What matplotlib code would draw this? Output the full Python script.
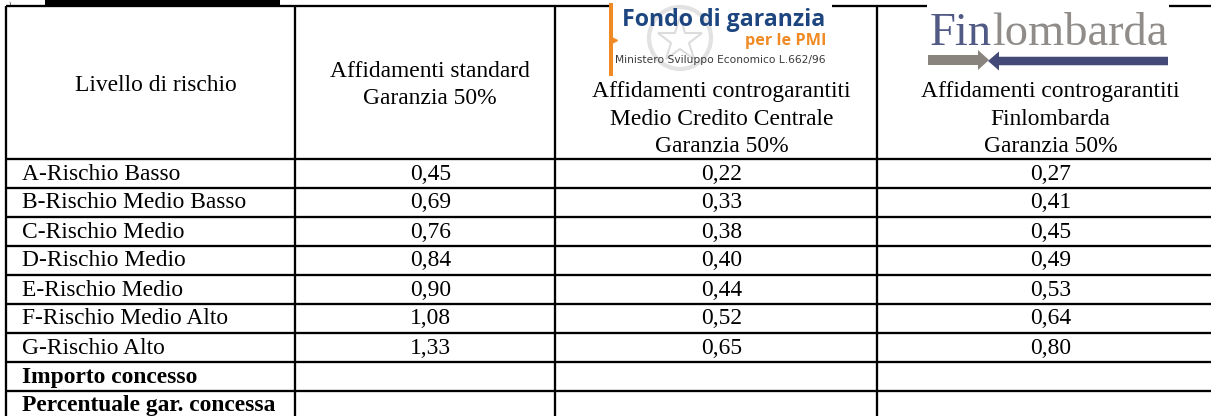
import matplotlib
matplotlib.use("Agg")
import matplotlib.pyplot as plt
from matplotlib.patches import Rectangle, Circle, FancyArrow

# ---------------- data ----------------
risk_levels = ["A-Rischio Basso", "B-Rischio Medio Basso", "C-Rischio Medio",
               "D-Rischio Medio", "E-Rischio Medio", "F-Rischio Medio Alto",
               "G-Rischio Alto"]
standard = [0.45, 0.69, 0.76, 0.84, 0.90, 1.08, 1.33]
mcc = [0.22, 0.33, 0.38, 0.40, 0.44, 0.52, 0.65]
finlombarda = [0.27, 0.41, 0.45, 0.49, 0.53, 0.64, 0.80]
summary_rows = ["Importo concesso", "Percentuale gar. concessa"]

header_col1 = ["Livello di rischio"]
header_col2 = ["Affidamenti standard", "Garanzia 50%"]
header_col3 = ["Affidamenti controgarantiti", "Medio Credito Centrale", "Garanzia 50%"]
header_col4 = ["Affidamenti controgarantiti", "Finlombarda", "Garanzia 50%"]

# ---------------- layout ----------------
W, H = 1211, 416
col_edges = [6, 294.5, 555, 877, 1213]
table_top = 6
header_bottom = 159
row_h = 29
n_rows = len(risk_levels) + len(summary_rows)
line_px = 2.3
lw = line_px * 72 / 100
FS = 16.9
SERIF = "Liberation Serif"
CENTER_SHIFT = 5.5
LEFT_PAD = 16
BASE_OFF = 20.5

fig = plt.figure(figsize=(W / 100, H / 100), dpi=100)
ax = fig.add_axes([0, 0, 1, 1])
ax.set_xlim(0, W)
ax.set_ylim(H, 0)
ax.axis("off")

# ---------------- grid lines ----------------
bottom = header_bottom + row_h * n_rows
ax.plot([col_edges[0], W + 5], [table_top, table_top], color="black", lw=lw,
        solid_capstyle="butt", zorder=1)
for i in range(n_rows + 1):
    y = header_bottom + i * row_h
    ax.plot([col_edges[0], W + 5], [y, y], color="black", lw=lw,
            solid_capstyle="butt", zorder=1)
for x in col_edges[:-1]:
    ax.plot([x, x], [table_top, bottom + 10], color="black", lw=lw,
            solid_capstyle="butt", zorder=1)

# cut-off heading above the table
ax.add_patch(Rectangle((45, -2), 235, 8, color="black", zorder=2, lw=0))
ax.text(9, 5.5, ")", fontsize=5, family=SERIF, va="baseline", ha="left")

def ccenter(j):
    return (col_edges[j] + col_edges[j + 1]) / 2 + CENTER_SHIFT

# ---------------- header text ----------------
gap = 27.3
for j, (lines, first) in enumerate([(header_col1, 91), (header_col2, 76.7),
                                    (header_col3, 97.3), (header_col4, 97.3)]):
    for k, s in enumerate(lines):
        ax.text(ccenter(j), first + k * gap, s, fontsize=FS, family=SERIF,
                ha="center", va="baseline", zorder=4)

# ---------------- body ----------------
def fmt(v):
    return f"{v:.2f}".replace(".", ",")

for i, name in enumerate(risk_levels):
    yb = header_bottom + i * row_h + BASE_OFF
    ax.text(col_edges[0] + LEFT_PAD, yb, name, fontsize=FS, family=SERIF,
            ha="left", va="baseline")
    for j, series in enumerate([standard, mcc, finlombarda], start=1):
        ax.text(ccenter(j), yb, fmt(series[i]), fontsize=FS, family=SERIF,
                ha="center", va="baseline")
for i, name in enumerate(summary_rows):
    yb = header_bottom + (len(risk_levels) + i) * row_h + BASE_OFF
    ax.text(col_edges[0] + LEFT_PAD, yb, name, fontsize=FS, family=SERIF,
            weight="bold", ha="left", va="baseline")

# ---------------- logos ----------------
fig.canvas.draw()
renderer = fig.canvas.get_renderer()

def fit_text(x0, x1, yb, s, **kw):
    t = ax.text(x0, yb, s, fontsize=10, ha="left", va="baseline", **kw)
    bb = t.get_window_extent(renderer)
    t.set_fontsize(10 * (x1 - x0) / bb.width)
    return t

# Fondo di garanzia logo
ax.add_patch(Rectangle((609, 1), 223, 75, color="white", zorder=2, lw=0))
ax.add_patch(Circle((680, 38), 31, facecolor="none", edgecolor="#e2e2e2",
                    lw=3, zorder=2.5))
ax.plot([680], [40], marker="*", markersize=34, markerfacecolor="none",
        markeredgecolor="#dcdcdc", markeredgewidth=1.5, zorder=2.5)
ax.add_patch(Rectangle((609, 3), 3.5, 73, color="#f08a24", zorder=3, lw=0))
ax.plot([614], [40], marker=">", markersize=5, color="#f08a24", zorder=3)
fit_text(622, 826, 26, "Fondo di garanzia", family="Open Sans",
         weight="bold", color="#1d4680", zorder=4)
fit_text(745, 827, 45, "per le PMI", family="Open Sans", weight="bold",
         color="#f08a24", zorder=4)
fit_text(615, 824, 63, "Ministero Sviluppo Economico L.662/96",
         family="Liberation Sans Narrow", color="#3a3a3a", zorder=4)

# Finlombarda logo
ax.add_patch(Rectangle((927, 1), 242, 71, color="white", zorder=2, lw=0))
probe = fit_text(930, 1168, 45, "Finlombarda", family=SERIF, color="none",
                 zorder=1)
fsz = probe.get_fontsize()
probe.remove()
t1 = ax.text(930, 45, "Fin", fontsize=fsz, family=SERIF, color="#505a85",
             ha="left", va="baseline", zorder=4)
fig.canvas.draw()
x_end = ax.transData.inverted().transform(
    (t1.get_window_extent(renderer).x1, 0))[0]
ax.text(x_end, 45, "lombarda", fontsize=fsz, family=SERIF, color="#8f8c8a",
        ha="left", va="baseline", zorder=4)
ax.add_patch(FancyArrow(928, 60, 61, 0, width=10, head_width=20,
                        head_length=11, length_includes_head=True,
                        color="#8a847f", lw=0, zorder=3))
ax.add_patch(FancyArrow(1168, 61, -180, 0, width=8.5, head_width=19,
                        head_length=11, length_includes_head=True,
                        color="#434a77", lw=0, zorder=3))

fig.savefig("out.png", dpi=100)
